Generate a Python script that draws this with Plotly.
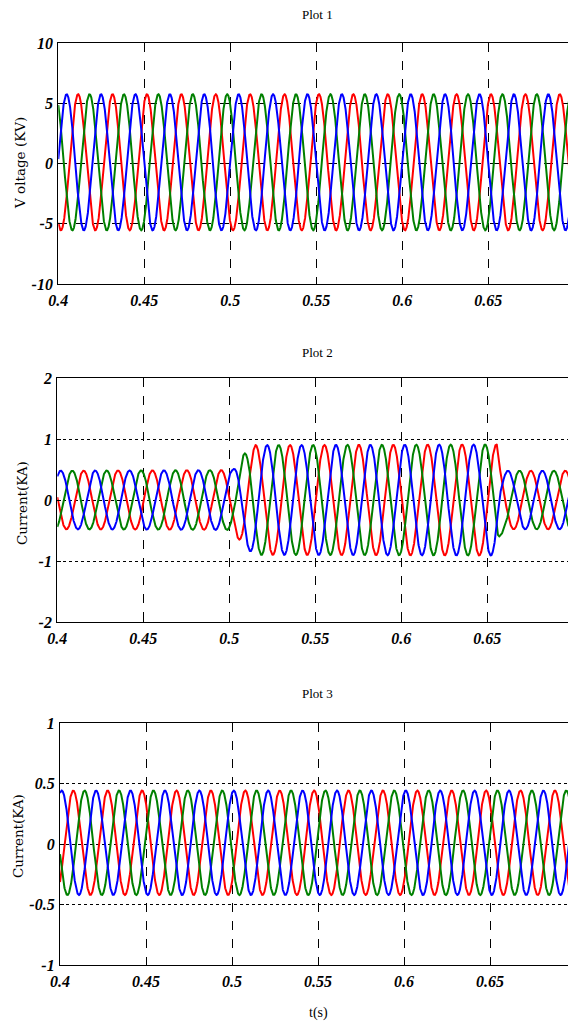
import numpy as np
import plotly.graph_objects as go

# ---------------- data ----------------
FREQ_HZ = 50.0
T_START, T_END, T_STEP = 0.4, 0.7, 0.00005
PHASES = ["red", "green", "blue"]
COLORS = {"blue": "#0000ff", "red": "#ff0000", "green": "#008000"}

# Plot 1 - voltage (kV): time of first crest of each phase, amplitude, offset
P1_PEAK_T = {"blue": 0.40485, "red": 0.41152, "green": 0.41818}
P1_AMP = 5.65
P1_OFFSET = 0.10

# Plot 2 - current (kA): first crest times and amplitude envelope breakpoints
P2_PEAK_T = {"blue": 0.4020, "green": 0.4087, "red": 0.4153}
P2_ENV_T = [0.400, 0.5020, 0.5053, 0.5087, 0.5116, 0.5151, 0.5200, 0.6555, 0.6575, 0.6595, 0.700]
P2_ENV_A = [0.48, 0.49, 0.64, 0.76, 0.83, 0.90, 0.90, 0.91, 0.62, 0.48, 0.48]

# Plot 3 - current (kA)
P3_PEAK_T = {"blue": 0.4010, "red": 0.4077, "green": 0.4143}
P3_AMP = 0.432
P3_OFFSET = 0.01

X_TICKS = [0.4, 0.45, 0.5, 0.55, 0.6, 0.65]
X_TICK_LABELS = ["0.4", "0.45", "0.5", "0.55", "0.6", "0.65"]
P1_Y_TICKS = [-10, -5, 0, 5, 10]
P1_Y_LABELS = ["-10", "-5", "0", "5", "10"]
P2_Y_TICKS = [-2, -1, 0, 1, 2]
P2_Y_LABELS = ["-2", "-1", "0", "1", "2"]
P3_Y_TICKS = [-1, -0.5, 0, 0.5, 1]
P3_Y_LABELS = ["-1", "-0.5", "0", "0.5", "1"]

TITLES = ["Plot 1", "Plot 2", "Plot 3"]
Y_TITLES = ["V oltage (KV)", "Current(KA)", "Current(KA)"]
X_TITLE = "t(s)"

# ---------------- build waveforms ----------------
t = np.arange(T_START, T_END, T_STEP)
w = 2 * np.pi * FREQ_HZ


def wave(peak_t, amp, offset=0.0):
    return offset + amp * np.cos(w * (t - peak_t))


env2 = np.interp(t, P2_ENV_T, P2_ENV_A)

fig = go.Figure()
for ph in PHASES:
    fig.add_trace(go.Scatter(x=t, y=wave(P1_PEAK_T[ph], P1_AMP, P1_OFFSET), mode="lines",
                             line=dict(color=COLORS[ph], width=2), xaxis="x", yaxis="y",
                             hoverinfo="skip"))
for ph in PHASES:
    fig.add_trace(go.Scatter(x=t, y=wave(P2_PEAK_T[ph], env2), mode="lines",
                             line=dict(color=COLORS[ph], width=2), xaxis="x2", yaxis="y2",
                             hoverinfo="skip"))
for ph in PHASES:
    fig.add_trace(go.Scatter(x=t, y=wave(P3_PEAK_T[ph], P3_AMP, P3_OFFSET), mode="lines",
                             line=dict(color=COLORS[ph], width=2), xaxis="x3", yaxis="y3",
                             hoverinfo="skip"))

W, H = 568, 1022
TICKFONT = dict(family="Liberation Serif", size=16, color="black", weight="bold", style="italic")
LABELFONT = dict(family="DejaVu Serif", size=13.5, color="black")

# pixel boxes: (left, top, bottom, x_right_value)
boxes = [(58.3, 43, 284, 0.6963), (57.3, 378, 622, 0.6969), (60.0, 723, 965, 0.6953)]
yticks = [(P1_Y_TICKS, P1_Y_LABELS, "dash"), (P2_Y_TICKS, P2_Y_LABELS, "dot"),
          (P3_Y_TICKS, P3_Y_LABELS, "dot")]

layout = dict(width=W, height=H, margin=dict(l=0, r=0, t=0, b=0, autoexpand=False),
              paper_bgcolor="white", plot_bgcolor="white", showlegend=False)

for i, ((left, top, bottom, xr), (yt, yl, ydash)) in enumerate(zip(boxes, yticks)):
    sfx = "" if i == 0 else str(i + 1)
    layout["xaxis" + sfx] = dict(
        domain=[left / W, 1.0], range=[0.4, xr], anchor="y" + sfx,
        tickmode="array", tickvals=X_TICKS, ticktext=X_TICK_LABELS,
        ticks="inside", ticklen=4, tickcolor="black", tickfont=TICKFONT,
        showline=True, linecolor="black", linewidth=1.3, mirror=True,
        showgrid=True, gridcolor="black", gridwidth=1, griddash="dash",
        zeroline=False, ticklabelstandoff=2, fixedrange=True, automargin=False)
    layout["yaxis" + sfx] = dict(
        domain=[1 - bottom / H, 1 - top / H], range=[yt[0], yt[-1]], anchor="x" + sfx,
        tickmode="array", tickvals=yt, ticktext=yl,
        ticks="inside", ticklen=4, tickcolor="black", tickfont=TICKFONT,
        showline=True, linecolor="black", linewidth=1.3, mirror=False,
        showgrid=True, gridcolor="black", gridwidth=1, griddash=ydash,
        zeroline=False, ticklabelstandoff=1, fixedrange=True, automargin=False)

fig.update_layout(**layout)

ann = []
title_y = [14, 353, 693]
for i in range(3):
    ann.append(dict(text=TITLES[i], x=317 / W, y=1 - title_y[i] / H, xref="paper", yref="paper",
                    showarrow=False, font=dict(family="Liberation Serif", size=13, color="black"),
                    xanchor="center", yanchor="middle"))
ylab = [(20, 163), (22, 503), (18, 836)]
for i in range(3):
    ann.append(dict(text=Y_TITLES[i], x=ylab[i][0] / W, y=1 - ylab[i][1] / H, xref="paper",
                    yref="paper", showarrow=False, textangle=-90, font=LABELFONT,
                    xanchor="center", yanchor="middle"))
ann.append(dict(text=X_TITLE, x=318 / W, y=1 - 1013 / H, xref="paper", yref="paper",
                showarrow=False, font=dict(family="Liberation Serif", size=14, color="black"),
                xanchor="center", yanchor="middle"))
fig.update_layout(annotations=ann)

fig.write_html("out.html", config={"displayModeBar": False},
               post_script="document.body.style.margin='0';document.body.style.padding='0';"
                           "document.body.style.overflow='hidden';")
